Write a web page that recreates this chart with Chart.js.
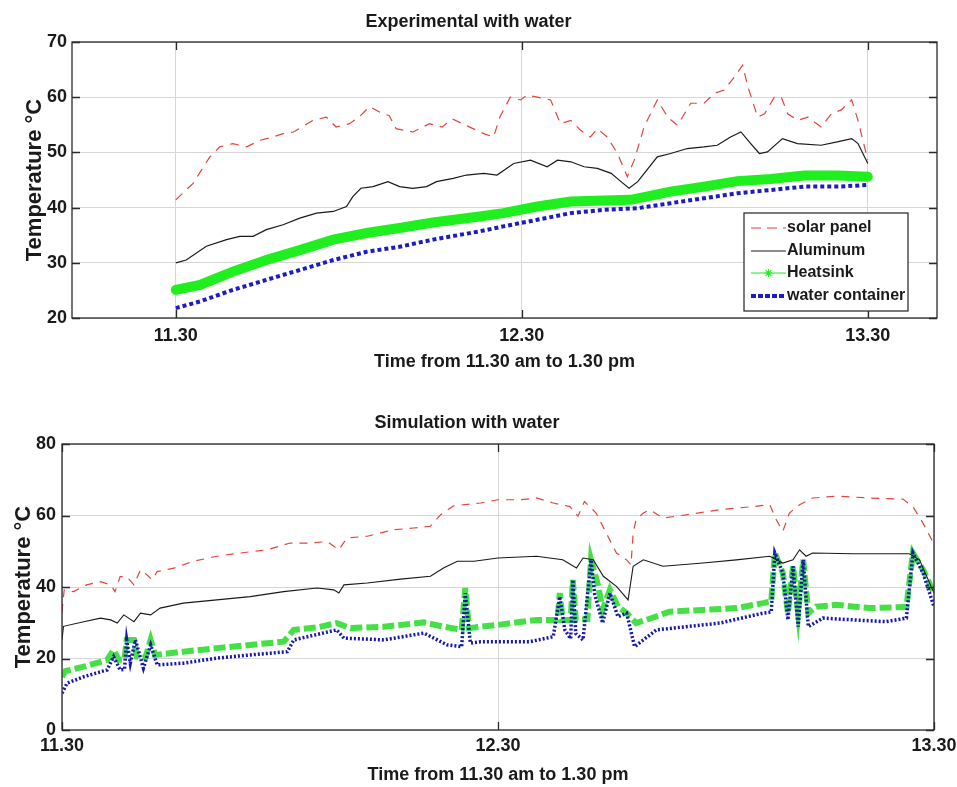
<!DOCTYPE html>
<html>
<head>
<script src="https://cdn.jsdelivr.net/npm/chart.js@4.4.1/dist/chart.umd.min.js"></script>
<style>
  body { margin: 0; background: #fff; }
  canvas { display: block; }
</style>
</head>
<body>
<canvas id="exp" width="957" height="390"></canvas>
<canvas id="sim" width="957" height="397"></canvas>
<script>
// time axis: minutes after 11.30
var xTickValues = [0, 60, 120];
var xTickLabels = ['11.30', '12.30', '13.30'];
var seriesNames = ['solar panel', 'Aluminum', 'Heatsink'];

// --- Experimental with water ---
var expSolarT = [0,3,5.9,7.6,9.9,12.3,14.6,16.9,18.6,20.4,23.8,26.1,27.8,30.1,31.8,33.6,35.9,37,38.2,41.1,44,46.2,47.9,50.3,53.4,55.1,56.2,58,59.8,60.9,62.7,65,66.7,68.5,70.2,71.9,73.1,74.8,76.6,78.3,79.5,81.2,83.5,85.3,87,89.3,91.6,93.4,95.1,96.9,98.3,99.2,100.9,102.1,103.8,105,106.1,107.9,109.6,111.9,113.7,115.4,117.2,118.3,120];
var expSolar = [41.4,44.4,49.2,51,51.6,51,52.2,52.8,53.4,53.7,55.8,56.4,54.6,55.2,56.4,58.3,57,56.7,54.3,53.7,55.2,54.6,56.1,54.9,53.4,52.8,56.4,60,59.5,60.4,60,59.5,55.2,55.8,54,52.8,54.3,52.8,49.8,45.6,48.6,54.6,59.5,56.4,54.9,58.9,58.9,60.7,61.3,63.7,65.8,61.9,56.4,57,60,60,57,55.8,56.4,54.6,57,57.7,59.5,55.8,48.6];

var expAlumT = [0,1.8,5.3,8.8,11.1,13.4,15.7,18.6,21.5,24.4,27.3,29.6,30.7,32.1,34.2,36.8,38.8,41.1,43.5,45.2,48.1,50.4,53.4,55.7,58.6,61.5,64.4,66.2,68.5,70.8,73.1,75.5,77.2,78.6,80.1,83.5,85.8,88.7,91.6,93.9,96.2,98,99.7,101.2,102.6,105.2,107.8,111.9,114.7,117.2,118.3,120];
var expAlum = [30,30.5,33,34.2,34.8,34.8,36,36.9,38.1,39,39.3,40.2,42,43.5,43.8,44.7,43.8,43.5,43.8,44.7,45.3,45.9,46.2,45.9,48,48.6,47.4,48.6,48.3,47.4,47.1,46.2,44.7,43.5,44.7,49.2,49.8,50.7,51,51.3,52.8,53.7,51.6,49.8,50.1,52.5,51.6,51.3,51.9,52.5,51.6,48];

var expHeatT = [0,4.2,9.9,15.7,21.5,27.3,33.1,38.8,44.6,52.7,56.8,62.7,68.5,74.3,78.9,85.8,91.6,97.4,103.2,109,114.8,120];
var expHeat = [25.1,26,28.4,30.5,32.3,34.2,35.4,36.3,37.3,38.4,39,40.2,41.1,41.3,41.4,42.9,43.8,44.8,45.2,45.8,45.8,45.6];

var expWaterT = [0,4.2,9.9,15.7,21.5,27.3,33.1,38.8,44.6,52.7,56.8,62.7,68.5,74.3,80.1,85.8,91.6,97.4,103.2,109,114.8,120];
var expWater = [21.8,23,25.1,26.9,28.7,30.5,32,32.9,34.2,35.7,36.6,37.8,39,39.6,39.9,40.8,41.7,42.6,43.2,43.8,43.8,44.1];

// --- Simulation with water ---
var simSolarT = [0,0.3,1.6,3.4,5.3,6.7,7.3,8,8.9,9.9,10.8,11.7,12.4,13.1,15.4,18.1,21.3,24.5,28.2,31.4,34.2,36.5,37.4,38.1,39.2,42,45.6,48.4,50.7,52.1,53.9,57.6,60,63,65.3,67.6,69.9,71,71.9,73.5,74.9,76.3,77.7,78.3,78.6,79,80,80.9,82.7,85.9,90.5,95.1,97.4,98.3,99.2,100.1,101.5,103.3,106.6,111.1,115.7,117.1,118.5,120];
var simSolar = [33,39.2,38.7,40.6,41.5,40.6,38.7,42.9,42.9,40.6,44.8,43.4,42,44.3,45.3,47.2,48.6,49.5,50.4,52.3,52.3,52.7,51.4,50.4,53.7,54.2,56,56.5,57,60.2,62.7,63.5,64.4,64.4,64.9,63.5,62.5,59.8,63.9,60.7,55.1,49.5,47.6,46.2,55.1,58.8,60.7,61.6,59.3,60.2,61.6,62.5,63,58.8,55.6,60.7,63,64.9,65.4,64.9,64.6,62.5,57.8,52];

var simAlumT = [0,0.2,3,5.3,6.7,7.6,8.5,9.9,10.8,12.2,13.5,16.7,21.3,25.9,30.5,35.1,37.4,38.1,38.8,42,46.6,50.7,52.5,54.4,56.7,60,65.3,68.9,70.8,71.7,73.1,74.5,76.3,77.9,78.6,80,82.7,88.2,92.8,97.4,99.2,100.6,101.5,102.4,103.3,108.9,116.6,118,120];
var simAlum = [25.2,29,30.3,31.3,30.8,29.9,32.2,30.3,32.7,32.2,34.1,35.5,36.4,37.3,38.7,39.7,39.2,38.3,40.6,41.1,42.2,43,45.3,47.2,47.2,48.1,48.6,47.6,45.3,48.1,47.6,43,40.2,36.4,45.8,47.6,45.8,46.7,47.6,48.6,46.7,47.6,50.4,48.6,49.5,49.3,49.3,47.6,38.3];

var simHeatT = [0,0.5,3,6.2,7.1,7.8,8.6,8.9,9.9,10.3,11.5,12.2,12.8,16.7,21.3,25.9,30.5,31.9,35.1,37.8,39.7,44.3,49.8,52.5,55,55.5,56,57.6,60,65.3,68.2,68.5,68.9,70,70.3,70.7,72.3,72.8,73.8,74.4,75.4,76.5,77.7,79,80.4,83.6,88.2,92.8,96.5,97.6,98.1,99.2,99.9,100.6,101.3,102,102.7,103.8,106.6,111.1,116.2,117.1,118.5,120];
var simHeat = [14.9,16.5,17.7,19.6,22.4,19.6,19.8,25.2,25.2,20.5,20.3,25.2,21,21.9,22.9,23.8,24.7,28,28.7,29.9,28.5,28.9,30.1,28.9,28,39.7,28.5,28.9,29.4,30.8,30.8,38.3,30.8,30.8,42,30.8,31,47.6,40.2,33.6,39.2,34.5,32.7,29.9,30.8,33.1,33.6,34.1,35.5,36,49.5,43.9,32.7,45.8,32.7,47.6,32.7,34.5,35,34.1,34.4,49.5,44.8,38.3];

var simWaterT = [0,0.7,3,6.2,7.1,8,8.6,8.9,9.4,10.1,11.2,12.2,13.1,16.7,21.3,25.9,31,31.9,37.8,38.8,44.3,49.8,53,55,55.5,56.2,57.6,60,64.4,67.6,68.5,69.2,70,70.3,70.7,71.7,72.8,73.3,74.4,75.4,76.5,77.7,78.8,80,81.8,85.9,90.5,96.5,97.6,98.1,99.2,99.9,100.6,101.3,102,102.7,104.7,108.9,113.4,116.2,117.1,118.5,120];
var simWater = [10.3,13.1,14.9,16.8,20.5,16.8,17,25.2,18.7,25.2,17.3,23.8,18.2,18.7,20.1,21,21.9,25.2,28,25.7,25.2,27.1,23.8,23.3,38.3,24.3,24.7,24.7,24.7,26.1,37.3,28,25.5,42,27,25.2,47.6,38,29.9,38.3,31.7,32.7,23.3,25.2,28,28.9,29.9,32.7,33,49.5,43.9,30.8,45.8,28.9,47.6,28.9,31.3,30.8,30.3,31.3,49.5,43.9,34.5];

Chart.defaults.font.family = "'Liberation Sans', Arial, sans-serif";
Chart.defaults.color = '#1a1a1a';

function pts(t, v) {
  return t.map(function (x, i) { return { x: x, y: v[i] }; });
}

// box round the axes, with inward ticks on all four sides
var framePlugin = {
  id: 'frame',
  afterDraw: function (chart) {
    var ctx = chart.ctx, a = chart.chartArea, x = chart.scales.x, y = chart.scales.y, L = 8;
    ctx.save();
    ctx.strokeStyle = '#2a2a2a';
    ctx.lineWidth = 1.3;
    ctx.strokeRect(a.left, a.top, a.right - a.left, a.bottom - a.top);
    ctx.beginPath();
    x.ticks.forEach(function (t) {
      var p = Math.round(x.getPixelForValue(t.value)) + 0.5;
      ctx.moveTo(p, a.bottom); ctx.lineTo(p, a.bottom - L);
      ctx.moveTo(p, a.top); ctx.lineTo(p, a.top + L);
    });
    y.ticks.forEach(function (t) {
      var p = Math.round(y.getPixelForValue(t.value)) + 0.5;
      ctx.moveTo(a.left, p); ctx.lineTo(a.left + L, p);
      ctx.moveTo(a.right, p); ctx.lineTo(a.right - L, p);
    });
    ctx.stroke();
    ctx.restore();
  }
};

// matlab-like legend box inside the axes
var boxLegendPlugin = {
  id: 'boxLegend',
  afterDraw: function (chart, args, o) {
    var ctx = chart.ctx, b = o.box;
    ctx.save();
    ctx.fillStyle = '#fff';
    ctx.fillRect(b[0], b[1], b[2] - b[0], b[3] - b[1]);
    ctx.strokeStyle = '#222';
    ctx.lineWidth = 1.2;
    ctx.strokeRect(b[0], b[1], b[2] - b[0], b[3] - b[1]);
    ctx.font = "bold 16px 'Liberation Sans', Arial, sans-serif";
    ctx.textBaseline = 'middle';
    o.items.forEach(function (it, i) {
      var yy = o.rows[i];
      ctx.save();
      ctx.strokeStyle = it.color;
      ctx.lineWidth = it.width;
      ctx.setLineDash(it.dash || []);
      ctx.beginPath();
      ctx.moveTo(o.line[0], yy); ctx.lineTo(o.line[1], yy);
      ctx.stroke();
      if (it.star) {
        var cx = (o.line[0] + o.line[1]) / 2, r = 4;
        ctx.setLineDash([]);
        ctx.beginPath();
        for (var k = 0; k < 4; k++) {
          var ang = k * Math.PI / 4;
          ctx.moveTo(cx - r * Math.cos(ang), yy - r * Math.sin(ang));
          ctx.lineTo(cx + r * Math.cos(ang), yy + r * Math.sin(ang));
        }
        ctx.stroke();
      }
      ctx.restore();
      ctx.fillStyle = '#1a1a1a';
      ctx.fillText(it.label, o.textX, yy);
    });
    ctx.restore();
  }
};

function makeChart(id, cfg) {
  return new Chart(document.getElementById(id), {
    type: 'line',
    data: { datasets: cfg.datasets },
    options: {
      responsive: false,
      animation: false,
      events: [],
      layout: { padding: { left: 0, right: cfg.padRight, top: 0, bottom: 0 } },
      elements: { point: { radius: 0 }, line: { tension: 0, fill: false } },
      scales: {
        x: {
          type: 'linear', min: cfg.xMin, max: cfg.xMax,
          afterBuildTicks: function (s) { s.ticks = xTickValues.map(function (v) { return { value: v }; }); },
          afterFit: function (s) { s.height = cfg.xHeight; s.paddingLeft = 0; s.paddingRight = 0; },
          ticks: {
            autoSkip: false, maxRotation: 0, padding: cfg.xTickPad,
            font: { size: 18, weight: 'bold' },
            callback: function (v) { return xTickLabels[xTickValues.indexOf(v)]; }
          },
          grid: { color: '#d6d6d6', drawTicks: false },
          border: { display: false },
          title: { display: true, text: 'Time from 11.30 am to 1.30 pm', font: { size: 18, weight: 'bold' },
                   padding: { top: 0, bottom: cfg.xTitlePad } }
        },
        y: {
          min: cfg.yMin, max: cfg.yMax,
          afterFit: function (s) { s.width = cfg.yWidth; },
          ticks: { stepSize: cfg.yStep, padding: cfg.yTickPad, font: { size: 18, weight: 'bold' } },
          grid: { color: '#d6d6d6', drawTicks: false },
          border: { display: false },
          title: { display: true, text: 'Temperature °C', font: { size: 22, weight: 'bold' },
                   padding: { top: cfg.yTitlePad, bottom: 0 } }
        }
      },
      plugins: {
        legend: { display: false },
        tooltip: { enabled: false },
        title: { display: true, text: cfg.title, font: { size: 18, weight: 'bold' }, color: '#1a1a1a',
                 padding: cfg.titlePad },
        boxLegend: cfg.legend
      }
    },
    plugins: [framePlugin, boxLegendPlugin]
  });
}

makeChart('exp', {
  title: 'Experimental with water',
  titlePad: { top: 11.2, bottom: 9.2 },
  xMin: -18, xMax: 132, yMin: 20, yMax: 70, yStep: 10,
  padRight: 20, xHeight: 72, yWidth: 72,
  xTickPad: 7, xTitlePad: 16.7, yTickPad: 5, yTitlePad: 22,
  datasets: [
    { label: seriesNames[0], data: pts(expSolarT, expSolar), borderColor: '#e2453c', borderWidth: 1.2, borderDash: [9, 7], order: 1 },
    { label: seriesNames[1], data: pts(expAlumT, expAlum), borderColor: '#1a1a1a', borderWidth: 1.2, order: 2 },
    { label: seriesNames[2], data: pts(expHeatT, expHeat), borderColor: '#1fee1f', borderWidth: 10, borderCapStyle: 'round', order: 4 },
    { label: 'water container', data: pts(expWaterT, expWater), borderColor: '#1c1cc4', borderWidth: 4, borderDash: [4, 3], order: 3 }
  ],
  legend: {
    box: [744, 213, 908, 311], rows: [228, 251, 273, 296], line: [751, 786], textX: 787,
    items: [
      { label: seriesNames[0], color: '#e2453c', width: 1.2, dash: [10, 6] },
      { label: seriesNames[1], color: '#1a1a1a', width: 1.2 },
      { label: seriesNames[2], color: '#1fee1f', width: 1.2, star: true },
      { label: 'water container', color: '#1c1cc4', width: 4, dash: [5, 2] }
    ]
  }
});

makeChart('sim', {
  title: 'Simulation with water',
  titlePad: { top: 22.2, bottom: 10.2 },
  xMin: 0, xMax: 120, yMin: 0, yMax: 80, yStep: 20,
  padRight: 23, xHeight: 57, yWidth: 62,
  xTickPad: 5.7, xTitlePad: 1.2, yTickPad: 6, yTitlePad: 11,
  datasets: [
    { label: seriesNames[0], data: pts(simSolarT, simSolar), borderColor: '#e2453c', borderWidth: 1.2, borderDash: [8, 7], order: 1 },
    { label: seriesNames[1], data: pts(simAlumT, simAlum), borderColor: '#1a1a1a', borderWidth: 1.1, order: 2 },
    { label: seriesNames[2], data: pts(simHeatT, simHeat), borderColor: '#45e045', borderWidth: 6, borderDash: [12, 4], order: 4 },
    { label: 'water', data: pts(simWaterT, simWater), borderColor: '#1818b0', borderWidth: 3.5, borderDash: [2, 2], order: 3 }
  ],
  legend: {
    box: [779, 631, 913, 730], rows: [647, 668, 692, 714], line: [787, 825], textX: 827,
    items: [
      { label: seriesNames[0], color: '#e2453c', width: 1.2, dash: [10, 6] },
      { label: seriesNames[1], color: '#1a1a1a', width: 1.2 },
      { label: seriesNames[2], color: '#45e045', width: 5, dash: [10, 3] },
      { label: 'water', color: '#1818b0', width: 2.5, dash: [2, 2] }
    ]
  }
});
</script>
</body>
</html>
